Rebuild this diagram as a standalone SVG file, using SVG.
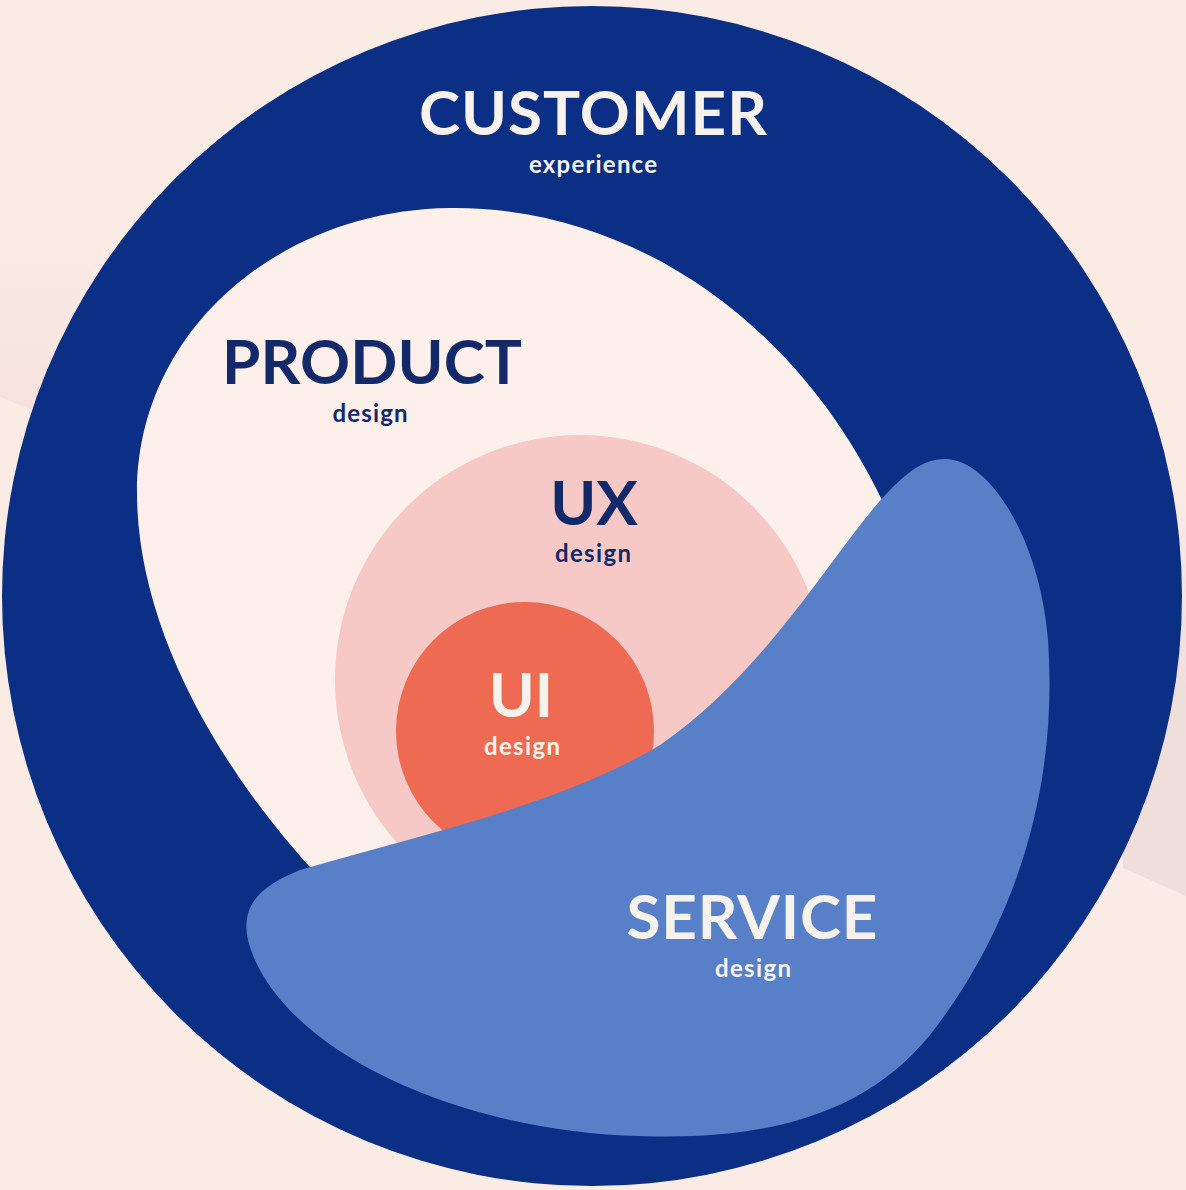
<svg xmlns="http://www.w3.org/2000/svg" width="1186" height="1190" viewBox="0 0 1186 1190">
  <defs>
    <linearGradient id="shadeL" x1="0" y1="0" x2="0" y2="1">
      <stop offset="0" stop-color="#f5e2dc" stop-opacity="0"/>
      <stop offset="1" stop-color="#f5e2dc" stop-opacity="1"/>
    </linearGradient>
    <linearGradient id="shadeR" x1="0" y1="0" x2="0" y2="1">
      <stop offset="0" stop-color="#efdfdb" stop-opacity="0"/>
      <stop offset="0.5" stop-color="#efdfdb" stop-opacity="1"/>
      <stop offset="1" stop-color="#efdfdb" stop-opacity="1"/>
    </linearGradient>
  </defs>
  <style>
    .title { font-family: Lato, "Open Sans", "Liberation Sans", sans-serif; font-weight: 700; font-size: 62px; text-anchor: middle; }
    .sub { font-family: Lato, "Open Sans", "Liberation Sans", sans-serif; font-weight: 700; font-size: 24px; text-anchor: middle; }
    .light { fill: #f7f2ec; }
    .navy { fill: #13296a; }
  </style>
  <rect x="0" y="0" width="1186" height="1190" fill="#fbebe5"/>
  <polygon points="0,230 110,230 40,413 0,397" fill="url(#shadeL)"/>
  <polygon points="1120,480 1186,480 1186,896 1123,868" fill="url(#shadeR)"/>

  <g id="customer">
    <circle cx="592" cy="596" r="590" fill="#0a2f85"/>
    <text class="title light" x="593" y="135" textLength="348" font-size="63">CUSTOMER</text>
    <text class="sub light" x="593" y="173" textLength="128">experience</text>
  </g>

  <g id="product">
    <path d="M137 493 C137 330 280 210 450 208 C620 206 790 310 882 500 L950 560 L700 900 L320 878 C210 760 137 620 137 493 Z" fill="#fdefe9"/>
    <text class="title navy" x="372" y="384" textLength="300">PRODUCT</text>
    <text class="sub navy" x="370" y="422" textLength="75">design</text>
  </g>

  <g id="ux">
    <circle cx="580" cy="680" r="245" fill="#f6c9c7"/>
    <text class="title navy" x="594" y="525">UX</text>
    <text class="sub navy" x="593" y="562" textLength="76">design</text>
  </g>

  <g id="ui">
    <circle cx="525" cy="731" r="129" fill="#ee6a52"/>
    <text class="title light" x="521" y="717">UI</text>
    <text class="sub light" x="522" y="755" textLength="76">design</text>
  </g>

  <g id="service">
    <path d="M945 459 C990 459 1040 540 1048 640 C1058 780 1020 920 930 1035 C860 1122 750 1140 640 1136 C470 1132 300 1060 255 960 C235 915 250 890 300 870 C420 835 560 805 660 745 C770 670 840 540 890 490 C910 470 925 459 945 459 Z" fill="#5780c8"/>
    <text class="title light" x="752" y="939" textLength="251">SERVICE</text>
    <text class="sub light" x="753" y="977" textLength="76">design</text>
  </g>

  <g id="connectors"/>
</svg>
